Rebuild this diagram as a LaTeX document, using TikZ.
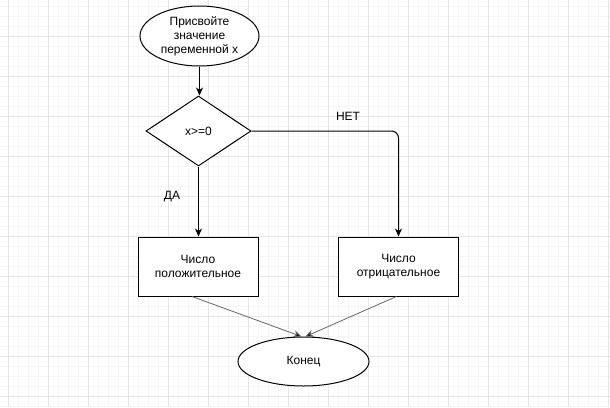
\documentclass[tikz,border=0pt]{standalone}
\usepackage{fontspec}
\setmainfont{Liberation Sans}
\usetikzlibrary{shapes.geometric,arrows.meta,calc}
\definecolor{gridminor}{HTML}{F6F6F6}
\definecolor{gridmajor}{HTML}{E6E6E6}
\definecolor{thinline}{HTML}{666666}
\begin{document}
\begin{tikzpicture}[x=1pt,y=-1pt,
  base/.style={draw=black, line width=1pt, font=\fontsize{12}{14}\selectfont, align=center, inner sep=0pt},
  lbl/.style={font=\fontsize{12}{14}\selectfont, inner sep=0pt},
  arr/.style={draw=black, line width=1pt, -{Stealth[length=8pt,width=7pt,inset=2.5pt]}},
  thinarr/.style={draw=thinline, line width=0.8pt, -{Stealth[length=8pt,width=7pt,inset=2.5pt,fill=black]}}]
\useasboundingbox (0,0) rectangle (610,407);
\fill[white] (0,0) rectangle (610,407);
\foreach \x in {-2,8,...,608} \draw[gridminor, line width=1pt] (\x,0) -- (\x,407);
\foreach \y in {6,16,...,406} \draw[gridminor, line width=1pt] (0,\y) -- (610,\y);
\foreach \x in {8,48,...,608} \draw[gridmajor, line width=1pt] (\x,0) -- (\x,407);
\foreach \y in {36,76,...,406} \draw[gridmajor, line width=1pt] (0,\y) -- (610,\y);

\node[ellipse, base, fill=white, minimum width=119pt, minimum height=60pt] (start) at (199.5,36) {Присвойте\\значение\\переменной x};
\node[diamond, base, fill=white, minimum width=105pt, minimum height=70pt] (cond) at (198.5,131) {x>=0};
\node[rectangle, base, fill=white, minimum width=120pt, minimum height=59pt] (pos) at (198,266.5) {Число\\положительное};
\node[rectangle, base, fill=white, minimum width=120pt, minimum height=59pt] (neg) at (398.5,266.5) {Число\\отрицательное};
\node[ellipse, base, fill=white, minimum width=131pt, minimum height=49pt] (end) at (303.5,361.5) {Конец};

\node[lbl] (da) at (172,197) {ДА};
\node[lbl] (net) at (348,116) {НЕТ};

\draw[arr] (start.south) -- (start.south |- cond.north);
\draw[arr] (cond.south) -- (cond.south |- pos.north);
\draw[arr, rounded corners=7pt] (cond.east) -- (neg.north |- cond.east) -- (neg.north);
\draw[thinarr] ($(pos.south)+(-6,0)$) -- ($(end.north)+(-2,0)$);
\draw[thinarr] ($(neg.south)+(-2,0)$) -- ($(end.north)+(2,0)$);
\end{tikzpicture}
\end{document}
